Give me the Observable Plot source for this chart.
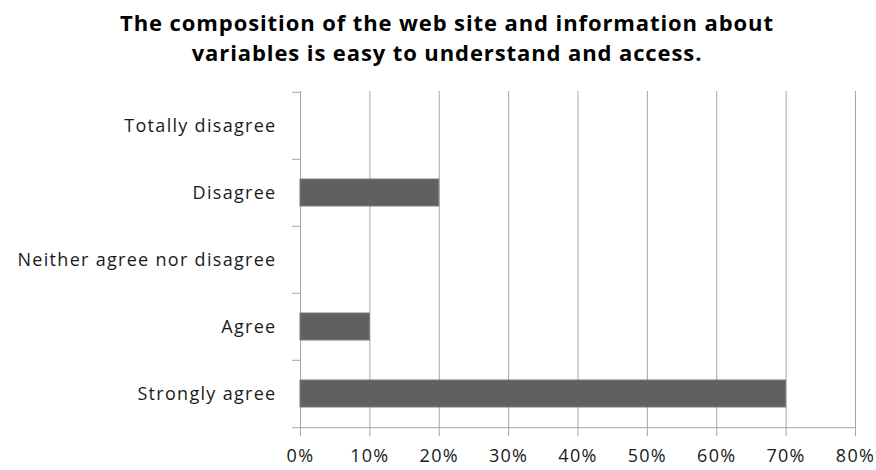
<!DOCTYPE html>
<html>
<head>
<meta charset="utf-8">
<script src="https://cdn.jsdelivr.net/npm/d3@7"></script>
<script src="https://cdn.jsdelivr.net/npm/@observablehq/plot@0.6"></script>
<style>
  body { margin: 0; background: #fff; }
  #title { width: 876px; height: 80px; box-sizing: border-box; padding-top: 7px; padding-left: 18px;
    text-align: center; font-family: "Open Sans", sans-serif; font-weight: bold; font-size: 22px; letter-spacing: 0.9px; line-height: 30px; color: #000; }
</style>
</head>
<body>
<div id="title">The composition of the web site and information about<br>variables is easy to understand and access.</div>
<div id="chart"></div>
<script>
const categories = ["Totally disagree", "Disagree", "Neither agree nor disagree", "Agree", "Strongly agree"];
const values = [0, 0.20, 0, 0.10, 0.70];
const xTicks = [0, 0.1, 0.2, 0.3, 0.4, 0.5, 0.6, 0.7, 0.8];

const data = categories.map((c, i) => ({category: c, value: values[i]}));
const marginTop = 11, marginBottom = 42, height = 390;
const half = (height - marginTop - marginBottom) / categories.length / 2;
const grid = "#a6a6a6";

const chart = Plot.plot({
  width: 876,
  height,
  marginLeft: 300,
  marginRight: 21,
  marginTop,
  marginBottom,
  style: {fontFamily: "'Open Sans', sans-serif", fontSize: "18px", letterSpacing: "1.3px", color: "#1a1a1a"},
  x: {domain: [0, 0.8], label: null},
  y: {domain: categories, padding: 0, label: null},
  marks: [
    Plot.ruleX(xTicks.slice(1), {stroke: grid}),
    Plot.ruleX([0], {stroke: grid}),
    Plot.ruleY(categories, {x1: 0, x2: 0, insetLeft: -8, dy: -half, stroke: grid}),
    Plot.ruleY(categories.slice(-1), {x1: 0, x2: 0.8, insetLeft: -8, dy: half, stroke: grid}),
    Plot.barX(data, {x: "value", y: "category", fill: "#606060", stroke: "#7a7a7a", strokeWidth: 1, insetTop: 20, insetBottom: 20}),
    Plot.axisX({ticks: xTicks, tickFormat: d3.format(".0%"), tickSize: 8, tickPadding: 13, stroke: grid, fill: "#1a1a1a", label: null}),
    Plot.axisY({tickSize: 0, tickPadding: 24, fill: "#1a1a1a", label: null})
  ]
});
document.getElementById("chart").appendChild(chart);
</script>
</body>
</html>
